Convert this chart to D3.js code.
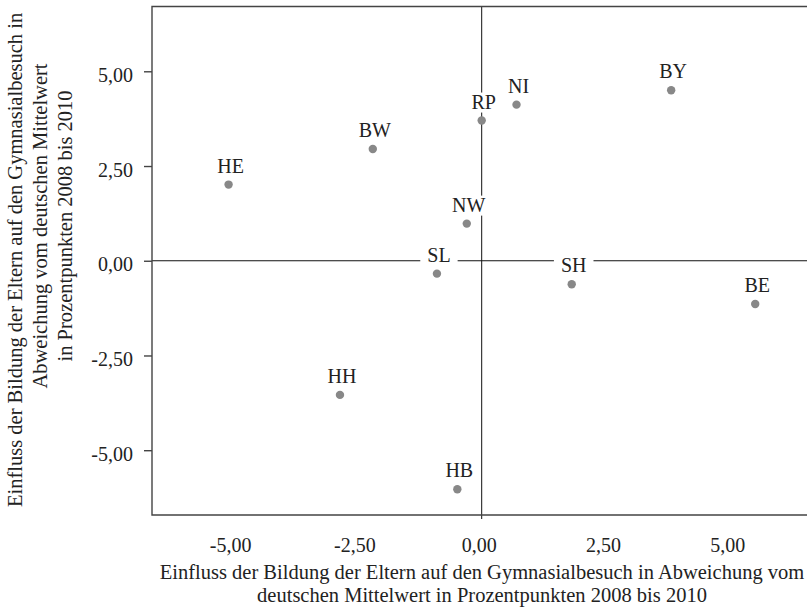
<!DOCTYPE html>
<html>
<head>
<meta charset="utf-8">
<script src="https://cdn.jsdelivr.net/npm/d3@7"></script>
<style>
  body { margin: 0; background: #fff; }
  text { font-family: "Liberation Serif", "DejaVu Serif", serif; fill: #222; }
</style>
</head>
<body>
<svg id="chart" width="807" height="609"></svg>
<script>
// Bundeslaender
const states = ['HE', 'BW', 'RP', 'NI', 'BY', 'NW', 'SL', 'SH', 'BE', 'HH', 'HB']
// x: Einfluss auf Gymnasialbesuch, y: Einfluss auf den Gymnasialbesuch (Abweichung vom Mittelwert)
const xValues = [-5.09, -2.19, 0.00, 0.70, 3.81, -0.30, -0.90, 1.81, 5.50, -2.85, -0.49]
const yValues = [2.01, 2.95, 3.70, 4.12, 4.50, 0.98, -0.34, -0.62, -1.14, -3.54, -6.03]
const tickValues = [-5, -2.5, 0, 2.5, 5]

const xTitle = ['Einfluss der Bildung der Eltern auf den Gymnasialbesuch in Abweichung vom',
                'deutschen Mittelwert in Prozentpunkten 2008 bis 2010']
const yTitle = ['Einfluss der Bildung der Eltern auf den Gymnasialbesuch in',
                'Abweichung vom deutschen Mittelwert',
                'in Prozentpunkten 2008 bis 2010']

const SVG = d3.select('#chart')
const Margin = { top: 6.5, bottom: 94, left: 152 }
const Height = 609
const fontSize = 20

const xscale = d3.scaleLinear()
    .domain([-6.63, 6.63])
    .range([Margin.left, 811.4])

const yscale = d3.scaleLinear()
    .domain([-6.71, 6.71])
    .range([Height - Margin.bottom, Margin.top])

const fmt = d => d.toFixed(2).replace('.', ',')
const x0 = xscale(0), y0 = yscale(0)
const bottomY = yscale.range()[0]

// reference lines at 0
SVG.append('line')
    .attr('x1', x0).attr('x2', x0)
    .attr('y1', Margin.top).attr('y2', bottomY + 4)
    .attr('stroke', '#111').attr('stroke-width', 1)
SVG.append('line')
    .attr('x1', Margin.left).attr('x2', 807)
    .attr('y1', y0).attr('y2', y0)
    .attr('stroke', '#111').attr('stroke-width', 1)

// frame: top, left, bottom
SVG.append('path')
    .attr('d', `M807,${Margin.top}H${Margin.left}V${bottomY}H807`)
    .attr('fill', 'none')
    .attr('stroke', '#444')
    .attr('stroke-width', 1.4)

// y axis ticks
const left = d3.axisLeft(yscale).tickValues(tickValues).tickSize(8).tickPadding(11).tickFormat(fmt)
const gy = SVG.append('g')
    .attr('transform', `translate(${Margin.left}, 0)`)
    .call(left)
    .attr('font-family', null)
    .attr('font-size', null)
gy.select('.domain').remove()
gy.selectAll('.tick line').attr('stroke', '#444').attr('stroke-width', 1.4)
gy.selectAll('.tick text')
    .attr('dy', '0.5em')
    .style('font-size', fontSize + 'px')
    .attr('fill', '#222')

// x tick labels, no tick marks
const bottom = d3.axisBottom(xscale).tickValues(tickValues).tickSize(0).tickPadding(23).tickFormat(fmt)
const gx = SVG.append('g')
    .attr('transform', `translate(0, ${bottomY})`)
    .call(bottom)
    .attr('font-family', null)
    .attr('font-size', null)
gx.select('.domain').remove()
gx.selectAll('.tick text')
    .attr('dx', -3)
    .style('font-size', fontSize + 'px')
    .attr('fill', '#222')

// axis titles
SVG.append('text')
    .attr('text-anchor', 'middle')
    .style('font-size', '20.5px')
    .selectAll('tspan')
    .data(xTitle)
    .join('tspan')
    .attr('x', 482)
    .attr('y', (d, i) => 579 + i * 23)
    .text(d => d)

// first line would run off the top, so it starts at the bottom instead of being centred
SVG.append('text')
    .attr('transform', 'translate(22, 507) rotate(-90)')
    .style('font-size', '20.5px')
    .text(yTitle[0])

SVG.append('text')
    .attr('text-anchor', 'middle')
    .attr('transform', 'translate(0, 226) rotate(-90)')
    .style('font-size', '20.5px')
    .selectAll('tspan')
    .data(yTitle.slice(1))
    .join('tspan')
    .attr('x', 0)
    .attr('y', (d, i) => 47 + i * 25)
    .text(d => d)

// points and labels
const pts = states.map((s, i) => ({ name: s, x: xValues[i], y: yValues[i] }))

const labels = SVG.append('g')
for (const p of pts) {
    let cx = xscale(p.x)
    let cy = yscale(p.y)
    let Block = labels.append('g')
    let bg = Block.append('rect').attr('fill', 'white')
    let t = Block.append('text')
        .text(p.name)
        .attr('x', cx + 2)
        .attr('y', cy - 12)
        .attr('text-anchor', 'middle')
        .style('font-size', fontSize + 'px')
    let b = t.node().getBBox()
    bg.attr('x', b.x - 7).attr('y', b.y + 2).attr('width', b.width + 14).attr('height', b.height - 2)

    SVG.append('circle')
        .attr('cx', cx)
        .attr('cy', cy)
        .attr('r', 4.2)
        .attr('fill', '#888')
}
</script>
</body>
</html>
